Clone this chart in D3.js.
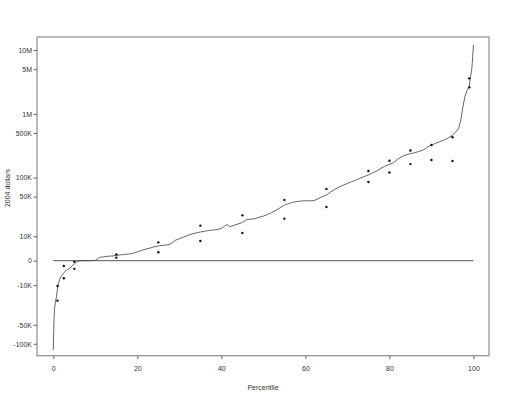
<!DOCTYPE html>
<html><head><meta charset="utf-8">
<script src="https://cdn.jsdelivr.net/npm/d3@7"></script>
<style>
html,body{margin:0;padding:0;background:#fff;}
svg{display:block;font-family:"Liberation Sans",Arial,sans-serif;}
</style></head>
<body>
<svg id="c" width="509" height="402"></svg>
<script>
// Percentile curve (2004 dollars)
const curvePct = [0,0.05,0.1,0.2,0.3,0.5,0.75,1,1.25,1.5,2,2.5,3,3.5,4,4.5,5,5.5,6,7,8,9,10,10.5,11,12,13,14,15,16,17,18,19,20,21,22,23,24,25,26,27,28,29,30,31,32,33,34,35,36,37,38,39,40,41,41.5,42,43,44,45,46,47,48,49,50,51,52,53,54,55,56,57,58,59,60,61,62,63,64,65,66,67,68,69,70,71,72,73,74,75,76,77,78,79,80,81,82,83,84,85,86,87,88,89,90,91,92,93,94,95,96,96.5,97,97.5,98,98.5,99,99.3,99.6,99.8,100];
const curveVal = [-125000,-90000,-60000,-38000,-28000,-21000,-17000,-12000,-9000,-7300,-5600,-4500,-3700,-3200,-2700,-1900,-1100,-500,-150,0,0,0,100,700,1200,1400,1600,1700,1900,2100,2300,2400,2700,3200,3800,4300,4700,5200,5600,5800,6000,6500,8000,8800,9600,10500,11200,11800,12300,12700,13200,13500,13700,14500,16500,17000,15600,16500,17500,18600,20800,21200,21700,23000,24000,25500,27500,30000,33000,36500,38500,40500,41700,42500,42800,42800,43000,46000,50000,53000,59000,65000,71000,76000,81000,86000,91000,98000,104000,110000,119000,127000,140000,152000,162000,172000,195000,215000,228000,238000,245000,258000,270000,300000,325000,345000,366000,390000,420000,460000,540000,600000,800000,1300000,1900000,2350000,2700000,3800000,5000000,7500000,12000000];
// Comparison estimates at selected percentiles
const dotPct = [1,2.5,5,15,25,35,45,55,65,75,80,85,90,95,99];
const dotUpper = [-10500,-1900,-350,2300,7100,16300,24700,44000,66000,127000,184000,267000,325000,430000,3600000];
const dotLower = [-20000,-6800,-3000,1100,3100,7700,11700,21700,34000,85000,120000,163000,189000,182000,2600000];
// Axis ticks
const yTickVals = [10000000,5000000,1000000,500000,100000,50000,10000,0,-10000,-50000,-100000];
const yTickLabels = ["10M","5M","1M","500K","100K","50K","10K","0","-10K","-50K","-100K"];
const xTickVals = [0,20,40,60,80,100];

const L=37,R=489,T=37,B=355.7;
const svg=d3.select("#c");
const tr = v => Math.asinh(v/1e4);
const x = d3.scaleLinear().domain([-3.88,103.7]).range([L,R]);
const yl = d3.scaleLinear().domain([tr(-154000),tr(16e6)]).range([B,T]);
const y = v => yl(tr(v));

// frame
svg.append("rect").attr("x",L).attr("y",T).attr("width",R-L).attr("height",B-T)
  .attr("fill","none").attr("stroke","#8c8c8c").attr("stroke-width",1.2);

// y axis
const ya = svg.append("g").attr("transform",`translate(${L},0)`)
  .call(d3.axisLeft(yl).tickValues(yTickVals.map(tr)).tickSize(3.5).tickPadding(1.5)
    .tickFormat((d,i)=>yTickLabels[i]));
ya.select(".domain").remove();
ya.selectAll("line").attr("stroke","#666");
ya.selectAll("text").attr("font-size",7).attr("fill","#333").attr("font-family","Liberation Sans, Arial, sans-serif");

// x axis
const xa = svg.append("g").attr("transform",`translate(0,${B})`)
  .call(d3.axisBottom(x).tickValues(xTickVals).tickSize(3.5).tickPadding(7));
xa.select(".domain").remove();
xa.selectAll("line").attr("stroke","#666");
xa.selectAll("text").attr("font-size",7).attr("fill","#333").attr("font-family","Liberation Sans, Arial, sans-serif");

// titles
svg.append("text").attr("x",(L+R)/2).attr("y",390).attr("text-anchor","middle")
  .attr("font-size",7).attr("fill","#333").text("Percentile");
svg.append("text").attr("transform",`translate(9.5,188) rotate(-90)`).attr("text-anchor","middle")
  .attr("font-size",7).attr("fill","#333").text("2004 dollars");

// zero line
svg.append("line").attr("x1",x(0)).attr("x2",x(100)).attr("y1",y(0)).attr("y2",y(0))
  .attr("stroke","#555").attr("stroke-width",1);

// curve
const pts = curvePct.map((p,i)=>[p,curveVal[i]]);
svg.append("path").datum(pts)
  .attr("d",d3.line().x(d=>x(d[0])).y(d=>y(d[1])))
  .attr("fill","none").attr("stroke","#4a4a4a").attr("stroke-width",0.85);

// dots
const dots = dotPct.flatMap((p,i)=>[[p,dotUpper[i]],[p,dotLower[i]]]);
svg.append("g").selectAll("circle").data(dots).join("circle")
  .attr("cx",d=>x(d[0])).attr("cy",d=>y(d[1])).attr("r",1.2).attr("fill","#111");
</script>
</body></html>
